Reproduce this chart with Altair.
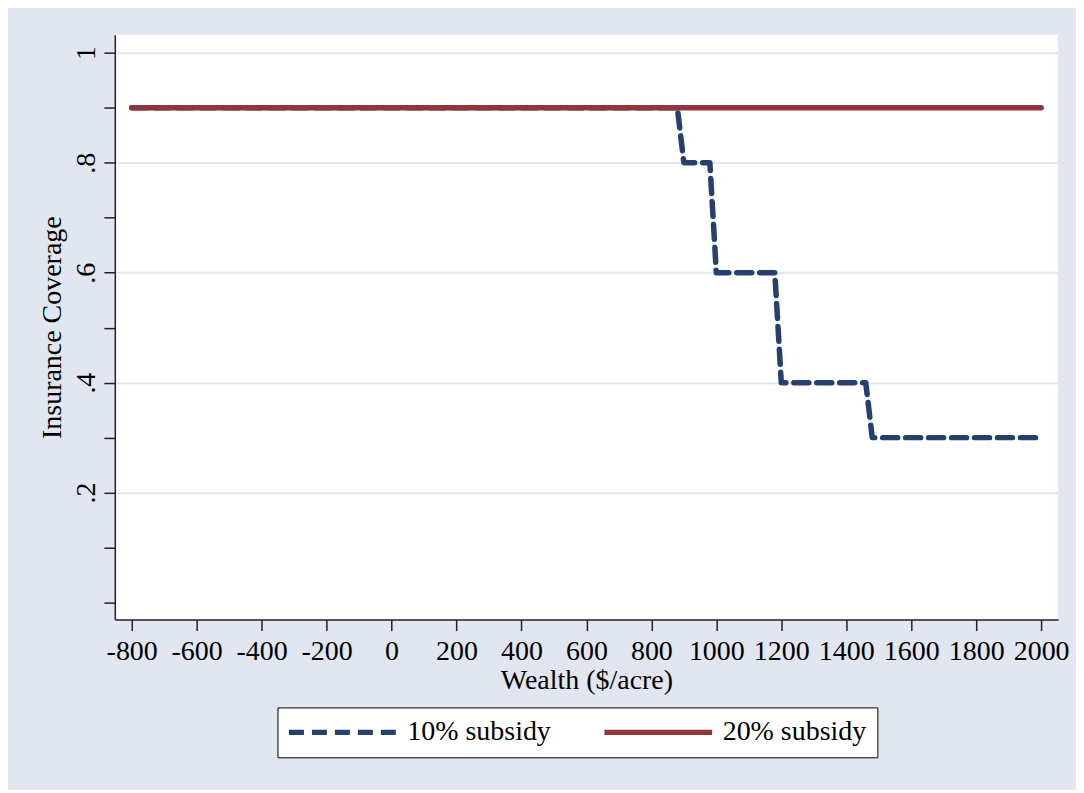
import altair as alt
import pandas as pd

# ---- data ----
wealth_10 = [-800, 880, 900, 980, 1000, 1180, 1200, 1460, 1480, 2000]
coverage_10 = [0.9, 0.9, 0.8, 0.8, 0.6, 0.6, 0.4, 0.4, 0.3, 0.3]
wealth_20 = [-800, 2000]
coverage_20 = [0.9, 0.9]
series_names = ["10% subsidy", "20% subsidy"]
x_ticks = [-800, -600, -400, -200, 0, 200, 400, 600, 800, 1000, 1200, 1400, 1600, 1800, 2000]
y_ticks = [0.0, 0.1, 0.2, 0.3, 0.4, 0.5, 0.6, 0.7, 0.8, 0.9, 1.0]

rows = []
for i, (w, c) in enumerate(zip(wealth_10, coverage_10)):
    rows.append({"wealth": w, "coverage": c, "series": series_names[0], "idx": i})
for i, (w, c) in enumerate(zip(wealth_20, coverage_20)):
    rows.append({"wealth": w, "coverage": c, "series": series_names[1], "idx": i})
df = pd.DataFrame(rows)

FONT = "Liberation Serif"
FS = 28
NAVY = "#26406e"
MAROON = "#90353b"
BG = "#e1e6f0"

y_label_expr = (
    "datum.value > 0.95 ? '1' : ((round(datum.value*10) % 2 == 0 && datum.value > 0.05) "
    "? replace(format(datum.value, '.1f'), '0.', '.') : '')"
)

chart = (
    alt.Chart(df)
    .mark_line(strokeWidth=5.5, strokeCap="round", strokeJoin="round")
    .encode(
        x=alt.X(
            "wealth:Q",
            title="Wealth ($/acre)",
            scale=alt.Scale(domain=[-852, 2052], nice=False, zero=False),
            axis=alt.Axis(
                values=x_ticks,
                labelExpr="'' + datum.value",
                grid=False,
            ),
        ),
        y=alt.Y(
            "coverage:Q",
            title="Insurance Coverage",
            scale=alt.Scale(domain=[-0.031, 1.033], nice=False, zero=False),
            axis=alt.Axis(
                values=y_ticks,
                labelExpr=y_label_expr,
                labelAngle=270,
                labelAlign="center",
                labelBaseline="alphabetic",
                grid=True,
                gridColor=BG,
                gridWidth=2,
                gridOpacity=alt.condition(
                    "(round(datum.value*10) % 2 == 0) && datum.value > 0.05",
                    alt.value(1),
                    alt.value(0),
                ),
            ),
        ),
        color=alt.Color(
            "series:N",
            scale=alt.Scale(domain=series_names, range=[NAVY, MAROON]),
            legend=alt.Legend(
                orient="none",
                legendX=163,
                legendY=674,
                direction="horizontal",
                title=None,
                fillColor="white",
                strokeColor="black",
                padding=11,
                symbolType="M-2,0H14",
                symbolSize=182,
                symbolStrokeWidth=5.5,
                symbolFillColor="transparent",
                labelFont=FONT,
                labelFontSize=FS,
                labelColor="black",
                labelOffset=91,
                columnPadding=42,
            ),
        ),
        strokeDash=alt.StrokeDash(
            "series:N",
            scale=alt.Scale(domain=series_names, range=[[15, 8], [1, 0]]),
            legend=None,
        ),
        order="idx:Q",
    )
    .properties(
        width=945,
        height=586,
        background=BG,
        autosize=alt.AutoSizeParams(type="none"),
        padding={"left": 107, "top": 26, "right": 18, "bottom": 170},
    )
    .configure_view(stroke=None, fill="white")
    .configure_axis(
        domainColor="#222222",
        domainWidth=1.5,
        tickColor="#222222",
        tickWidth=1.5,
        tickSize=11,
        labelFont=FONT,
        labelFontSize=FS,
        labelColor="black",
        titleFont=FONT,
        titleFontSize=FS,
        titleFontWeight="normal",
        titleColor="black",
    )
    .configure_axisX(labelPadding=7, titlePadding=1)
    .configure_axisY(labelPadding=9, titlePadding=6)
)

chart.save("out.html", embed_options={"renderer": "svg", "actions": False})
